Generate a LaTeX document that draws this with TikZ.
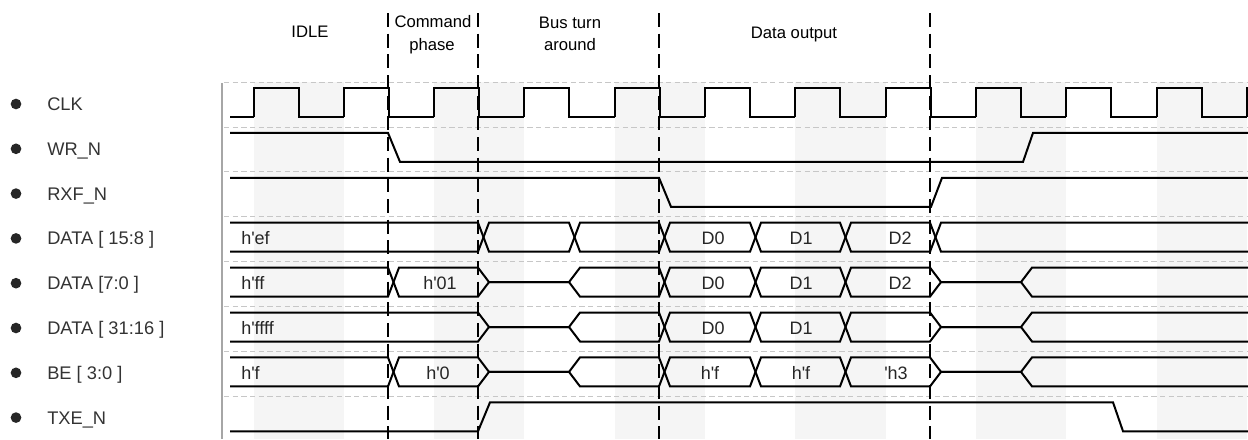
\documentclass[tikz,border=0pt]{standalone}
\usepackage{fontspec}
\setmainfont{Liberation Sans}
\newcommand{\hq}{\textquotesingle}

\begin{document}
\begin{tikzpicture}[x=0.75pt,y=-0.75pt]
    \tikzstyle{wave}=[line width=1.5pt,black]
    \tikzstyle{phase line}=[line width=1.5pt,black,dash pattern=on 10.5pt off 5pt]
    \tikzstyle{divider}=[line width=0.6pt,black!22,dash pattern=on 4pt off 2.5pt]
    \tikzstyle{band}=[fill=black!4]
    \tikzstyle{dot}=[circle,fill=black!85,minimum size=8pt,inner sep=0pt]
    \tikzstyle{signal}=[anchor=west,inner sep=0pt,text height=9.8pt,text depth=0pt,text=black!80,font=\fontsize{13.7}{15}\selectfont]
    \tikzstyle{bus val}=[inner sep=0pt,text height=9.6pt,text depth=0pt,text=black!85,font=\fontsize{13.5}{15}\selectfont]
    \tikzstyle{phase name}=[inner sep=0pt,text height=9pt,text depth=0pt,font=\fontsize{12.5}{15}\selectfont]

    \useasboundingbox (0,0) rectangle (1248,439);

    % Background bands, one per clock period
    \foreach \k in {0,...,5}
        \fill[band] ({253.5+180.6*\k},82) rectangle ++(90.3,357);

    % Row separators and frame
    \foreach \k in {0,...,7}
        \draw[divider] (224,{82+44.9*\k}) -- (1248,{82+44.9*\k});
    \draw[black!35,line width=1pt] (222,83) -- (222,439);

    % Signal names
    \foreach \name/\lbl [count=\i from 0] in {clk/CLK, wrn/{WR\_N}, rxfn/{RXF\_N},
            d158/{DATA [ 15:8 ]}, d70/{DATA [7:0 ]}, d3116/{DATA [ 31:16 ]},
            be/{BE [ 3:0 ]}, txen/{TXE\_N}}
    {
        \node[dot] (B-\name) at (16,{104+44.8*\i}) {};
        \node[signal] (S-\name) at (47,{104+44.8*\i}) {\lbl};
    }

    % Phase boundaries
    \foreach \x in {388,478,659,930}
        \draw[phase line] (\x,13) -- (\x,439);

    % Phase names
    \node[phase name] (idle) at (310,31) {IDLE};
    \node[phase name] (cmd1) at (433,21) {Command};
    \node[phase name] (cmd2) at (432,44) {phase};
    \node[phase name] (bta1) at (570,22) {Bus turn};
    \node[phase name] (bta2) at (570,44) {around};
    \node[phase name] (dout) at (794,32) {Data output};

    % CLK
    \foreach \k in {0,...,10}
        \draw[wave] ({253.5+90.3*\k},117) -- ++(0,-29) -- ++(45,0) -- ++(0,29) -- ++(45.3,0);
    \draw[wave] (230,117) -- (253.5,117);
    \draw[wave] (1246.8,117) -- (1246.8,88) -- (1248,88);

    % WR_N
    \begin{scope}[shift={(0,132.9)}]
        \draw[wave] (230,0) -- (388,0) -- (400,29) -- (1023,29) -- (1033,0) -- (1248,0);
    \end{scope}

    % RXF_N
    \begin{scope}[shift={(0,177.8)}]
        \draw[wave] (230,0) -- (659,0) -- (671,29) -- (931,29) -- (942,0) -- (1248,0);
    \end{scope}

    % DATA [15:8]
    \begin{scope}[shift={(0,222.7)}]
        \draw[wave] (230,0) -- (478,0) -- (489,29) -- (569,29) -- (580,0) -- (659,0) -- (670,29)
            -- (750,29) -- (761,0) -- (840,0) -- (851,29) -- (930,29) -- (941,0) -- (1248,0);
        \draw[wave] (230,29) -- (478,29) -- (489,0) -- (569,0) -- (580,29) -- (659,29) -- (670,0)
            -- (750,0) -- (761,29) -- (840,29) -- (851,0) -- (930,0) -- (941,29) -- (1248,29);
        \node[bus val,anchor=west] (v-ef) at (241,15.5) {h\hq ef};
        \node[bus val] (v-d0a) at (713,15.5) {D0};
        \node[bus val] (v-d1a) at (801,15.5) {D1};
        \node[bus val] (v-d2a) at (900,15.5) {D2};
    \end{scope}

    % DATA [7:0] and BE [3:0] share the same shape
    \foreach \y in {267.6,357.4} {
        \begin{scope}[shift={(0,\y)}]
            \draw[wave] (230,0) -- (388,0) -- (399,29) -- (478,29) -- (489,14.5) -- (569,14.5)
                -- (580,0) -- (659,0) -- (670,29) -- (750,29) -- (761,0) -- (840,0) -- (851,29)
                -- (930,29) -- (941,14.5) -- (1021,14.5) -- (1032,0) -- (1248,0);
            \draw[wave] (230,29) -- (388,29) -- (399,0) -- (478,0) -- (489,14.5) -- (569,14.5)
                -- (580,29) -- (659,29) -- (670,0) -- (750,0) -- (761,29) -- (840,29) -- (851,0)
                -- (930,0) -- (941,14.5) -- (1021,14.5) -- (1032,29) -- (1248,29);
        \end{scope}
    }
    \begin{scope}[shift={(0,267.6)}]
        \node[bus val,anchor=west] (v-ff) at (241,15.5) {h\hq ff};
        \node[bus val] (v-01) at (440,15.5) {h\hq 01};
        \node[bus val] (v-d0b) at (713,15.5) {D0};
        \node[bus val] (v-d1b) at (801,15.5) {D1};
        \node[bus val] (v-d2b) at (900,15.5) {D2};
    \end{scope}

    % DATA [31:16]
    \begin{scope}[shift={(0,312.5)}]
        \draw[wave] (230,0) -- (478,0) -- (489,14.5) -- (569,14.5) -- (580,0) -- (659,0)
            -- (670,29) -- (750,29) -- (761,0) -- (840,0) -- (851,29) -- (930,29)
            -- (941,14.5) -- (1021,14.5) -- (1032,0) -- (1248,0);
        \draw[wave] (230,29) -- (478,29) -- (489,14.5) -- (569,14.5) -- (580,29) -- (659,29)
            -- (670,0) -- (750,0) -- (761,29) -- (840,29) -- (851,0) -- (930,0)
            -- (941,14.5) -- (1021,14.5) -- (1032,29) -- (1248,29);
        \node[bus val,anchor=west] (v-ffff) at (241,15.5) {h\hq ffff};
        \node[bus val] (v-d0c) at (713,15.5) {D0};
        \node[bus val] (v-d1c) at (801,15.5) {D1};
    \end{scope}

    % BE [3:0] values
    \begin{scope}[shift={(0,357.4)}]
        \node[bus val,anchor=west] (v-f) at (241,15.5) {h\hq f};
        \node[bus val] (v-0) at (438,15.5) {h\hq 0};
        \node[bus val] (v-fa) at (710,15.5) {h\hq f};
        \node[bus val] (v-fb) at (801,15.5) {h\hq f};
        \node[bus val] (v-h3) at (896,15.5) {\hq h3};
    \end{scope}

    % TXE_N
    \begin{scope}[shift={(0,402.3)}]
        \draw[wave] (230,29) -- (478,29) -- (490,0) -- (1113,0) -- (1123,29) -- (1248,29);
    \end{scope}
\end{tikzpicture}
\end{document}
